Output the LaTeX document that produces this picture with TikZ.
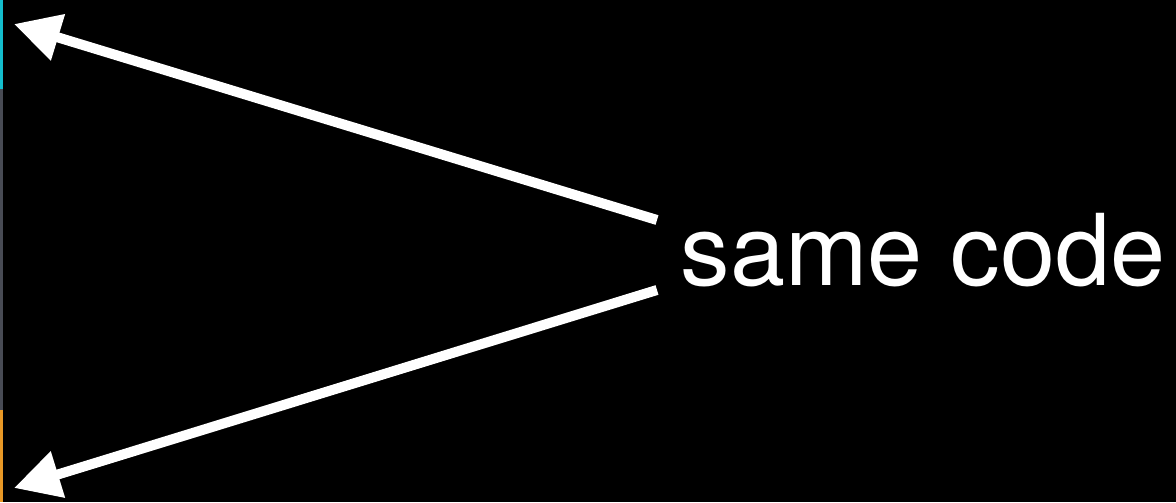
\documentclass[tikz,border=0pt]{standalone}
\usepackage{fontspec}
\setmainfont{TeX Gyre Heros}
\usepackage{tikz}
\usetikzlibrary{arrows.meta}
\definecolor{barcyan}{RGB}{20, 190, 205}
\definecolor{bargray}{RGB}{72, 75, 84}
\definecolor{barorange}{RGB}{232, 152, 38}

\begin{document}
\begin{tikzpicture}[every node/.style={font=\fontsize{28.2}{31}\selectfont, text=white},
    pointer/.style={white, line width=1mm, -{Triangle[length=4.6mm, width=4.6mm]}}]
    \fill[black] (0,0) rectangle (11.76, 5.02);
    \useasboundingbox (0,0) rectangle (11.76, 5.02);

    \fill[barcyan]   (0,4.13) rectangle (0.03, 5.02);
    \fill[bargray]   (0,0.92) rectangle (0.03, 4.13);
    \fill[barorange] (0,0)    rectangle (0.03, 0.92);

    \node[anchor=base west, inner sep=0pt] (samecode) at (6.80, 2.17) {same code};

    \coordinate (upstart) at (6.57, 2.82);
    \coordinate (lowstart) at (6.57, 2.12);
    \coordinate (uptip) at (0.14, 4.78);
    \coordinate (lowtip) at (0.14, 0.14);

    \draw[pointer] (upstart) -- (uptip);
    \draw[pointer] (lowstart) -- (lowtip);
  \end{tikzpicture}
\end{document}
